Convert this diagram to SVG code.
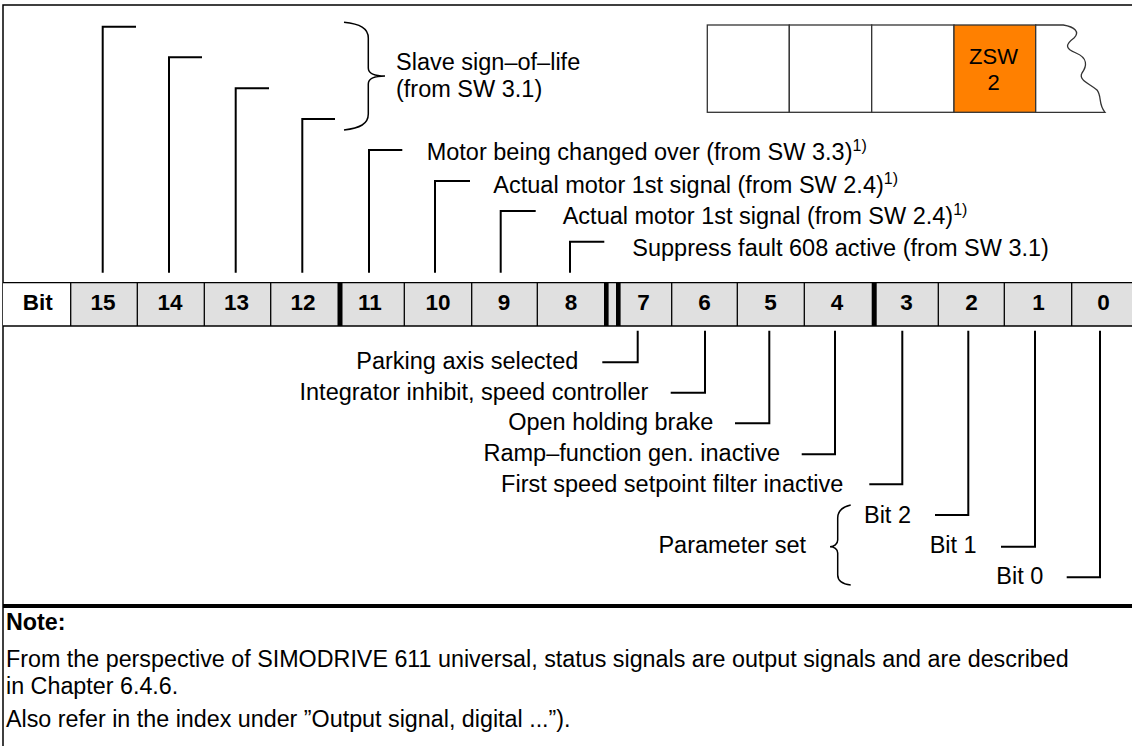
<svg xmlns="http://www.w3.org/2000/svg" width="1132" height="746" viewBox="0 0 1132 746">
<style>
.t{font-family:"Liberation Sans",Arial,Helvetica,sans-serif;font-size:23.5px;fill:#000}
.e{text-anchor:end}
.b{font-family:"Liberation Sans",Arial,Helvetica,sans-serif;font-weight:bold;font-size:22.5px;text-anchor:middle;fill:#000}
.n{font-family:"Liberation Sans",Arial,Helvetica,sans-serif;font-size:23.3px;fill:#000}
.sup{font-size:16px}
.ld{fill:none;stroke:#000;stroke-width:2}
.br{fill:none;stroke:#000;stroke-width:1.5}
.frame{fill:none;stroke:#000;stroke-width:1.5}
.cell{fill:#e0e0e0}
.div{stroke:#000;stroke-width:1.3}
.box{fill:#fff;stroke:#333;stroke-width:1.3}
</style>
<rect width="1132" height="746" fill="#fff"/>
<g id="frame">
<path class="frame" d="M3,746 L3,5 L1132,5"/>
<rect x="3" y="604" width="1129" height="4" fill="#000"/>
</g>
<g id="telegram">
<rect class="box" x="707.3" y="25" width="82" height="87.3"/>
<rect class="box" x="789.3" y="25" width="82.4" height="87.3"/>
<rect class="box" x="871.7" y="25" width="82.3" height="87.3"/>
<rect class="box" x="954" y="25" width="81.7" height="87.3" style="fill:#ff8000"/>
<path class="box" d="M1035.7,25 L1063.3,25 C1075,27 1080,32 1074,38 C1066,44 1064,48 1076,53 C1088,58 1087,66 1082,73 C1078,80 1090,84 1097,90 C1102,96 1098,104 1105,112.3 L1035.7,112.3 Z"/>
<text class="t" x="993.5" y="63.5" text-anchor="middle" style="font-size:22px">ZSW</text>
<text class="t" x="993.5" y="90" text-anchor="middle" style="font-size:22px">2</text>
</g>
<g id="bitrow">
<rect x="3" y="282.7" width="67.7" height="43.3" fill="#fff"/>
<rect class="cell" x="70.7" y="282.7" width="1061.3" height="43.3"/>
<line class="div" x1="3" y1="282.7" x2="1132" y2="282.7"/>
<line class="div" x1="3" y1="326" x2="1132" y2="326"/>
<g class="div">
<line x1="70.7" y1="282.7" x2="70.7" y2="326"/>
<line x1="137.3" y1="282.7" x2="137.3" y2="326"/>
<line x1="204.3" y1="282.7" x2="204.3" y2="326"/>
<line x1="270.7" y1="282.7" x2="270.7" y2="326"/>
<line x1="404.3" y1="282.7" x2="404.3" y2="326"/>
<line x1="471.7" y1="282.7" x2="471.7" y2="326"/>
<line x1="537.3" y1="282.7" x2="537.3" y2="326"/>
<line x1="671.7" y1="282.7" x2="671.7" y2="326"/>
<line x1="737.3" y1="282.7" x2="737.3" y2="326"/>
<line x1="804.3" y1="282.7" x2="804.3" y2="326"/>
<line x1="938.3" y1="282.7" x2="938.3" y2="326"/>
<line x1="1004.3" y1="282.7" x2="1004.3" y2="326"/>
<line x1="1071.7" y1="282.7" x2="1071.7" y2="326"/>
</g>
<rect x="337.5" y="282.7" width="5" height="43.3" fill="#000"/>
<rect x="604" y="282.7" width="4.6" height="43.3" fill="#000"/>
<rect x="616" y="282.7" width="4.6" height="43.3" fill="#000"/>
<rect x="871.7" y="282.7" width="5" height="43.3" fill="#000"/>
</g>
<g id="bit-labels">
<text class="b" x="37.8" y="309.5">Bit</text>
<text class="b" x="103" y="309.5">15</text>
<text class="b" x="170" y="309.5">14</text>
<text class="b" x="236.5" y="309.5">13</text>
<text class="b" x="303" y="309.5">12</text>
<text class="b" x="370" y="309.5">11</text>
<text class="b" x="438" y="309.5">10</text>
<text class="b" x="504" y="309.5">9</text>
<text class="b" x="571" y="309.5">8</text>
<text class="b" x="643.5" y="309.5">7</text>
<text class="b" x="704.5" y="309.5">6</text>
<text class="b" x="770.5" y="309.5">5</text>
<text class="b" x="837" y="309.5">4</text>
<text class="b" x="906.5" y="309.5">3</text>
<text class="b" x="971.5" y="309.5">2</text>
<text class="b" x="1038.5" y="309.5">1</text>
<text class="b" x="1103.5" y="309.5">0</text>
</g>
<g id="connectors">
<path class="ld" d="M102.7,272.7 V26.7 H136"/>
<path class="ld" d="M169,272.7 V57.3 H202"/>
<path class="ld" d="M235.7,272.7 V88.3 H269"/>
<path class="ld" d="M302.3,272.7 V119 H335"/>
<path class="ld" d="M369,272.7 V150 H402.3"/>
<path class="ld" d="M435,272.7 V181 H470"/>
<path class="ld" d="M500.7,272.7 V211 H535.7"/>
<path class="ld" d="M570,272.7 V241.7 H604.3"/>
<path class="ld" d="M637.7,330.7 V362.3 H602.3"/>
<path class="ld" d="M705,330.7 V392.7 H670.7"/>
<path class="ld" d="M769.3,330.7 V423.3 H735"/>
<path class="ld" d="M835,330.7 V454.3 H801.7"/>
<path class="ld" d="M902.3,330.7 V484.3 H869.3"/>
<path class="ld" d="M968.3,330.7 V515 H935"/>
<path class="ld" d="M1035,330.7 V546.7 H1001"/>
<path class="ld" d="M1100,330.7 V577.3 H1066.7"/>
<path class="br" d="M344,22.3 C360,24 368.3,28 368.3,38 L368.3,68 C368.3,73 374,76 385,76 C374,76 368.3,79 368.3,84 L368.3,114 C368.3,124 360,128 344,130"/>
<path class="br" d="M850.7,505 C842,507 837.7,511 837.7,518 L837.7,540 C837.7,544 834,546.7 830,546.7 C834,546.7 837.7,549 837.7,553 L837.7,575 C837.7,581 842,584 850.7,585"/>
</g>
<g id="upper-labels">
<text class="t" x="396" y="69.5">Slave sign–of–life</text>
<text class="t" x="396" y="96.5">(from SW 3.1)</text>
<text class="t" x="426.7" y="160">Motor being changed over (from SW 3.3)<tspan class="sup" dy="-9">1)</tspan></text>
<text class="t" x="493.3" y="192.5">Actual motor 1st signal (from SW 2.4)<tspan class="sup" dy="-9">1)</tspan></text>
<text class="t" x="562.7" y="224.3">Actual motor 1st signal (from SW 2.4)<tspan class="sup" dy="-9">1)</tspan></text>
<text class="t" x="632.3" y="256">Suppress fault 608 active (from SW 3.1)</text>
</g>
<g id="lower-labels">
<text class="t e" x="578.3" y="369.3">Parking axis selected</text>
<text class="t e" x="648.3" y="400">Integrator inhibit, speed controller</text>
<text class="t e" x="713.3" y="430">Open holding brake</text>
<text class="t e" x="780" y="461">Ramp–function gen. inactive</text>
<text class="t e" x="843.3" y="491.7">First speed setpoint filter inactive</text>
<text class="t e" x="911" y="523.3">Bit 2</text>
<text class="t e" x="976.7" y="553.3">Bit 1</text>
<text class="t e" x="1043.3" y="584">Bit 0</text>
<text class="t e" x="806" y="553.3">Parameter set</text>
</g>
<g id="note">
<text class="n" x="6" y="630" style="font-weight:bold">Note:</text>
<text class="n" x="6" y="667">From the perspective of SIMODRIVE 611 universal, status signals are output signals and are described</text>
<text class="n" x="6" y="694">in Chapter 6.4.6.</text>
<text class="n" x="6" y="727">Also refer in the index under ”Output signal, digital ...”).</text>
</g>
</svg>
